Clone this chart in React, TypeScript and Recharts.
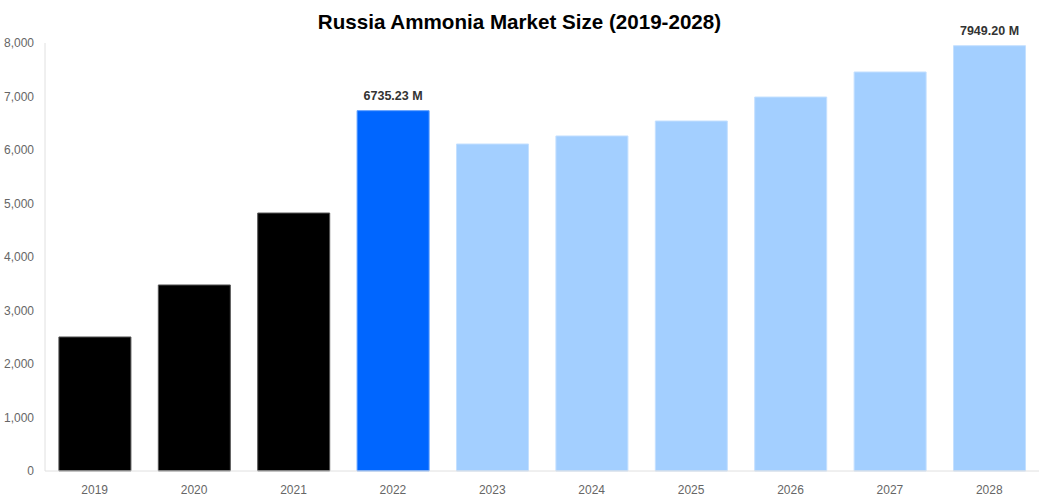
import { BarChart, Bar, XAxis, YAxis, Cell, LabelList } from 'recharts'

const YEARS = ['2019', '2020', '2021', '2022', '2023', '2024', '2025', '2026', '2027', '2028']
const VALUES = [2505, 3477, 4822, 6735.23, 6112, 6262, 6542, 6990, 7458, 7949.2]
const FILLS = ['#000000', '#000000', '#000000', '#0066ff', '#a3cfff', '#a3cfff', '#a3cfff', '#a3cfff', '#a3cfff', '#a3cfff']
const STROKES = ['#555555', '#555555', '#555555', '#5c9dff', '#c4e0ff', '#c4e0ff', '#c4e0ff', '#c4e0ff', '#c4e0ff', '#c4e0ff']
const LABELLED = ['2022', '2028']
const Y_TICKS = [0, 1000, 2000, 3000, 4000, 5000, 6000, 7000, 8000]

const data = YEARS.map((year, i) => ({ year, value: VALUES[i] }))

const font = "'Liberation Sans', Arial, sans-serif"

function TopLabel(props: any) {
  const { x, y, width, value, index } = props
  if (!LABELLED.includes(YEARS[index])) return null
  return (
    <text x={x + width / 2} y={y - 11} textAnchor="middle" fill="#333" fontSize={12.5} fontWeight="bold" fontFamily={font}>
      {value.toFixed(2)} M
    </text>
  )
}

export default function App() {
  return (
    <div style={{ position: 'absolute', left: 0, top: 0, width: 1039, height: 500, background: '#fff', fontFamily: font }}>
      <div style={{ position: 'absolute', top: 10, left: 0, width: 1039, textAlign: 'center', fontSize: 20.6, fontWeight: 'bold', color: '#000' }}>
        Russia Ammonia Market Size (2019-2028)
      </div>
      <BarChart width={1039} height={500} data={data} margin={{ top: 43, right: 0, left: 0, bottom: 0 }} barCategoryGap="14%">
        <XAxis
          dataKey="year"
          height={29}
          tickLine={false}
          axisLine={{ stroke: '#e0e0e0' }}
          tick={{ fill: '#666', fontSize: 12, fontFamily: font }}
          tickMargin={8}
        />
        <YAxis
          width={45}
          domain={[0, 8000]}
          ticks={Y_TICKS}
          tickLine={false}
          axisLine={{ stroke: '#e0e0e0' }}
          tick={{ fill: '#666', fontSize: 12, fontFamily: font }}
          tickFormatter={(v: number) => v.toLocaleString('en-US')}
          tickMargin={5}
        />
        <Bar dataKey="value" isAnimationActive={false}>
          {data.map((d, i) => (
            <Cell key={d.year} fill={FILLS[i]} stroke={STROKES[i]} strokeWidth={1} />
          ))}
          <LabelList dataKey="value" content={<TopLabel />} />
        </Bar>
      </BarChart>
    </div>
  )
}
